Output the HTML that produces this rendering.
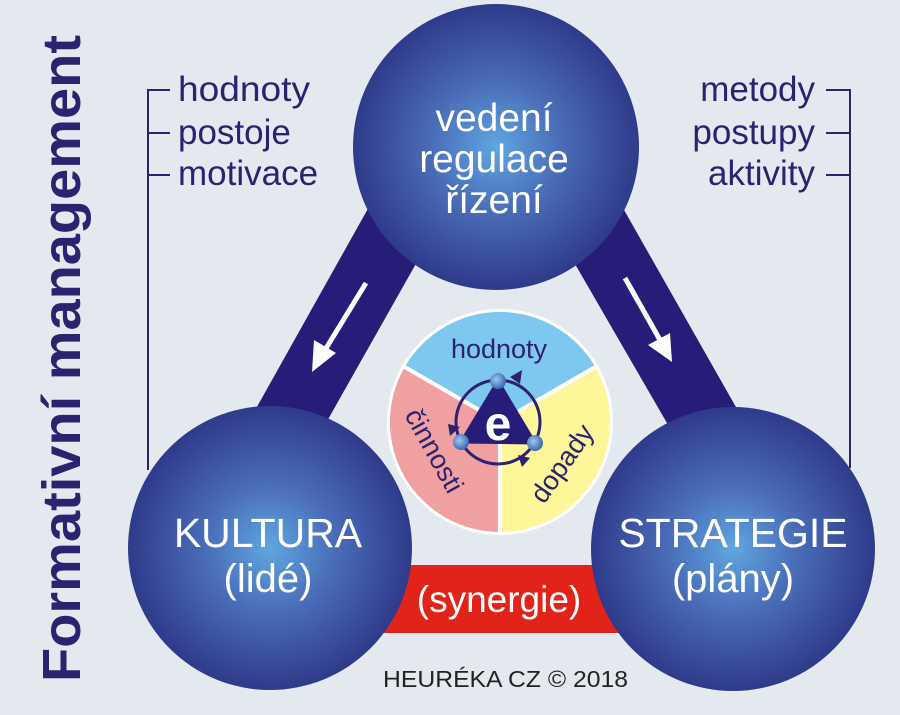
<!DOCTYPE html>
<html><head><meta charset="utf-8"><style>html,body{margin:0;padding:0;background:#e4e9f0}svg{display:block}</style></head>
<body>
<svg width="900" height="715" viewBox="0 0 900 715" xmlns="http://www.w3.org/2000/svg" font-family="Liberation Sans, Arial, sans-serif">
<defs>
<radialGradient id="g" cx="0.5" cy="0.5" r="0.5">
<stop offset="0" stop-color="#5fa6e0"/>
<stop offset="0.45" stop-color="#4a6db8"/>
<stop offset="1" stop-color="#2f3a8a"/>
</radialGradient>
<radialGradient id="b" cx="0.4" cy="0.4" r="0.6">
<stop offset="0" stop-color="#9ec8ef"/>
<stop offset="1" stop-color="#3a6ab0"/>
</radialGradient>
</defs>
<rect width="900" height="715" fill="#e4e9f0"/>
<g stroke="#2b2270" stroke-width="2" fill="none">
<path d="M170 90 H148 V470 M148 133 H170 M148 175 H170"/>
<path d="M826 90 H850 V468 M850 133 H826 M850 175 H826"/>
</g>
<g fill="#2b2270" font-size="35">
<text x="178" y="101" textLength="132" lengthAdjust="spacingAndGlyphs">hodnoty</text>
<text x="178" y="144">postoje</text>
<text x="178" y="185">motivace</text>
<text x="815" y="101" text-anchor="end">metody</text>
<text x="815" y="144" text-anchor="end">postupy</text>
<text x="815" y="185" text-anchor="end">aktivity</text>
</g>
<text transform="translate(80,682) rotate(-90)" font-size="54" font-weight="bold" fill="#2b2270" textLength="647" lengthAdjust="spacingAndGlyphs">Formativní management</text>
<polygon points="384,180 452,200 322,430 244,430" fill="#271d78"/>
<polygon points="538,200 607,180 749,430 671,430" fill="#271d78"/>
<rect x="370" y="565" width="265" height="68" fill="#e2231a"/>
<g stroke="#fff" stroke-width="5" fill="#fff">
<line x1="366" y1="283" x2="325" y2="350"/>
<polygon points="312,372 314,340 336,353" stroke="none"/>
<line x1="625" y1="278" x2="660" y2="340"/>
<polygon points="672,362 648,345 670,333" stroke="none"/>
</g>
<circle cx="496" cy="147" r="143" fill="url(#g)"/>
<circle cx="270" cy="548" r="142" fill="url(#g)"/>
<circle cx="733" cy="549" r="142" fill="url(#g)"/>
<g fill="#fff" font-size="39" text-anchor="middle">
<text x="494" y="131">vedení</text>
<text x="494" y="172">regulace</text>
<text x="494" y="213">řízení</text>
<text x="268" y="547" font-size="41">KULTURA</text>
<text x="268" y="592" font-size="40">(lidé)</text>
<text x="733" y="547" font-size="41">STRATEGIE</text>
<text x="733" y="592" font-size="40">(plány)</text>
<text x="499" y="612" font-size="37">(synergie)</text>
</g>
<circle cx="500" cy="422" r="113" fill="#fff"/>
<path d="M500 422 L404.7 367 A110 110 0 0 1 595.3 367 Z" fill="#7ec8ef"/>
<path d="M500 422 L595.3 367 A110 110 0 0 1 500 532 Z" fill="#fdf79a"/>
<path d="M500 422 L500 532 A110 110 0 0 1 404.7 367 Z" fill="#f0a0a0"/>
<g stroke="#fff" stroke-width="4"><line x1="500" y1="422" x2="404.7" y2="367"/><line x1="500" y1="422" x2="595.3" y2="367"/><line x1="500" y1="422" x2="500" y2="532"/></g>
<g fill="#2b2270" font-size="27">
<text x="499" y="358" text-anchor="middle">hodnoty</text>
<text transform="translate(404,415) rotate(61)">činnosti</text>
<text transform="translate(544,505) rotate(-55)">dopady</text>
</g>
<circle cx="498" cy="422" r="42" fill="none" stroke="#2b2270" stroke-width="3"/>
<polygon points="498,381 461,442 535,443" fill="#271d78" stroke="#271d78" stroke-width="3" stroke-linejoin="round"/>
<text x="498" y="440" text-anchor="middle" font-size="48" font-weight="bold" fill="#fff">e</text>
<g fill="#2b2270">
<polygon points="510,377 522,370 520,384"/>
<polygon points="450,436 460,427 448,424"/>
<polygon points="530,458 518,455 522,467"/>
</g>
<circle cx="498" cy="381" r="8" fill="url(#b)"/>
<circle cx="461" cy="442" r="8" fill="url(#b)"/>
<circle cx="535" cy="443" r="8" fill="url(#b)"/>
<text x="383" y="687" font-size="23" fill="#222" textLength="245" lengthAdjust="spacingAndGlyphs">HEURÉKA CZ © 2018</text>
</svg>
</body></html>
